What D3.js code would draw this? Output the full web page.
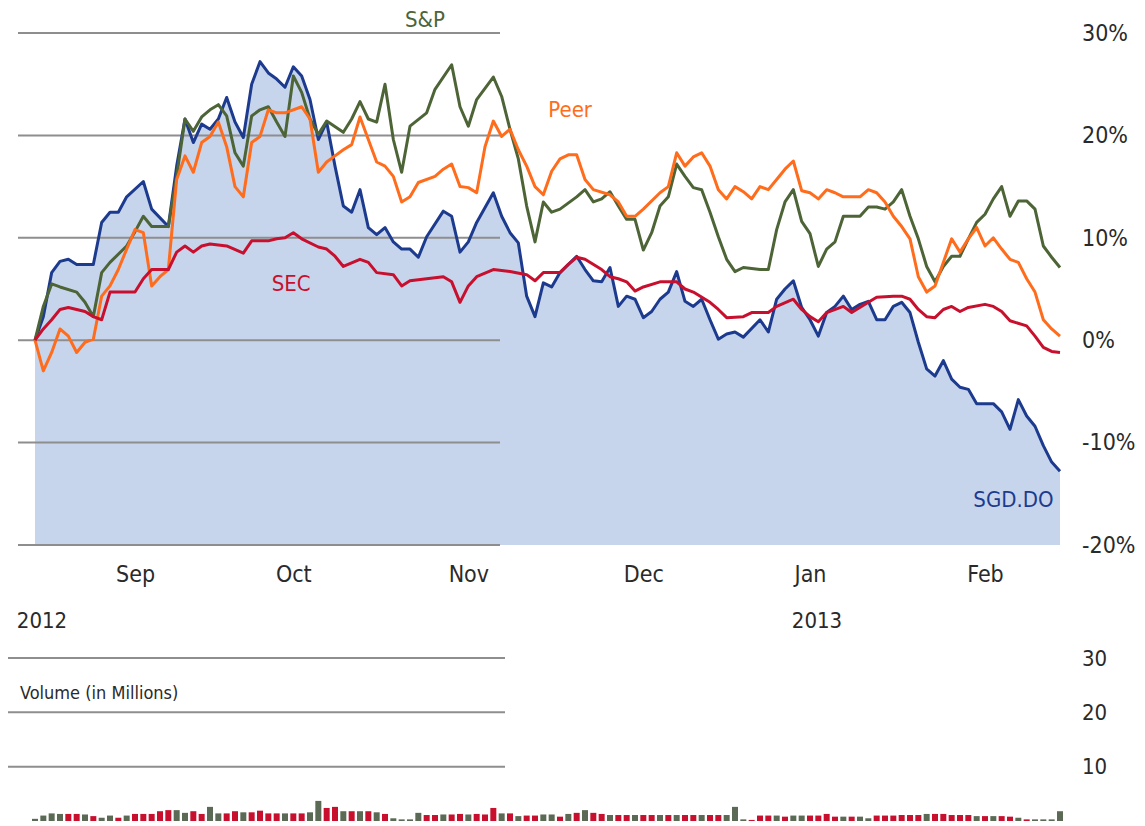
<!DOCTYPE html>
<html>
<head>
<meta charset="utf-8">
<script src="https://cdn.jsdelivr.net/npm/d3@7"></script>
<style>
  html, body { margin: 0; padding: 0; background: #ffffff; }
  svg text { font-family: "Liberation Sans Narrow", "DejaVu Sans Condensed", "Liberation Sans", sans-serif; }
</style>
</head>
<body>
<svg id="chart" width="1145" height="826"></svg>
<script>
// Relative performance (%) by trading session, 16 Aug 2012 .. 14 Feb 2013
// each entry: [session index, percent change]
const stockSeries = [[0,0],[1,2.3],[2,6.6],[3,7.7],[4,7.9],[5,7.4],[7,7.4],[8,11.5],[9,12.5],[10,12.5],[11,14.0],[13,15.5],[14,12.8],[16,11.1],[17,17.0],[18,21.6],[19,19.3],[20,21.1],[21,20.6],[22,21.6],[23,23.7],[24,21.3],[25,19.8],[26,25.0],[27,27.2],[28,26.1],[29,25.5],[30,24.7],[31,26.7],[32,25.8],[33,23.5],[34,19.6],[35,21.3],[36,17.0],[37,13.1],[38,12.5],[39,14.7],[40,11.0],[41,10.3],[42,11.0],[43,9.6],[44,8.9],[45,8.9],[46,8.1],[47,10.1],[49,12.6],[50,12.1],[51,8.6],[52,9.6],[53,11.5],[55,14.4],[56,12.1],[57,10.5],[58,9.5],[59,4.3],[60,2.3],[61,5.6],[62,5.2],[63,6.6],[65,8.2],[66,6.9],[67,5.8],[68,5.7],[69,7.1],[70,3.3],[71,4.3],[72,4.0],[73,2.2],[74,2.8],[75,4.0],[76,4.7],[77,6.7],[78,3.8],[79,3.3],[80,4.0],[81,2.0],[82,0.1],[83,0.6],[84,0.8],[85,0.3],[87,2.0],[88,0.8],[89,4.0],[90,5.0],[91,5.8],[92,3.2],[93,2.0],[94,0.4],[95,2.7],[96,3.3],[97,4.3],[98,3.0],[99,3.5],[100,3.8],[101,2.0],[102,2.0],[103,3.3],[104,3.7],[105,2.7],[106,-0.2],[107,-2.8],[108,-3.5],[109,-2.0],[110,-3.8],[111,-4.6],[112,-4.8],[113,-6.2],[115,-6.2],[116,-7.0],[117,-8.7],[118,-5.8],[119,-7.4],[120,-8.4],[121,-10.3],[122,-11.9],[123,-12.8]];

const indexSeries = [[0,0],[1,3.3],[2,5.5],[3,5.2],[5,4.7],[6,3.7],[7,2.3],[8,6.6],[9,7.6],[11,9.2],[12,10.6],[13,12.1],[14,11.1],[16,11.1],[17,16.0],[18,21.6],[19,20.4],[20,21.8],[21,22.5],[22,23.0],[23,21.9],[24,18.3],[25,17.0],[26,21.9],[27,22.5],[28,22.8],[29,21.3],[30,19.9],[31,25.8],[32,24.2],[33,21.6],[34,20.1],[35,21.4],[37,20.3],[38,21.6],[39,23.3],[40,21.6],[41,21.3],[42,25.0],[43,19.6],[44,16.4],[45,20.9],[47,22.2],[48,24.5],[50,26.9],[51,22.8],[52,20.9],[53,23.5],[55,25.7],[56,23.8],[57,20.6],[58,17.7],[59,13.1],[60,9.6],[61,13.5],[62,12.5],[63,12.8],[65,14.0],[66,14.7],[67,13.5],[68,13.8],[69,14.5],[70,13.1],[71,11.8],[72,11.8],[73,8.8],[74,10.5],[75,13.1],[76,14.0],[77,17.2],[78,16.0],[79,14.9],[80,14.7],[81,12.5],[82,10.1],[83,7.9],[84,6.7],[85,7.1],[87,6.9],[88,6.9],[89,10.8],[90,13.5],[91,14.7],[92,11.6],[93,10.4],[94,7.2],[95,8.9],[96,9.6],[97,12.1],[99,12.1],[100,13.0],[101,13.0],[102,12.8],[103,13.5],[104,14.7],[105,12.1],[106,9.9],[107,7.2],[108,5.7],[109,7.2],[110,8.2],[111,8.2],[112,9.9],[113,11.5],[114,12.3],[115,13.8],[116,15.0],[117,12.1],[118,13.6],[119,13.6],[120,12.8],[121,9.2],[122,8.1],[123,7.1]];

const peerSeries = [[0,0],[1,-3.0],[2,-1.2],[3,1.1],[4,0.4],[5,-1.2],[6,-0.2],[7,0.1],[8,4.3],[9,5.3],[10,6.9],[11,8.9],[12,10.8],[13,10.5],[14,5.3],[15,6.2],[16,6.9],[17,15.7],[18,18.0],[19,16.4],[20,19.3],[21,19.9],[22,21.3],[23,18.9],[24,15.0],[25,14.0],[26,19.3],[27,19.9],[28,22.5],[29,22.2],[30,22.2],[32,22.8],[33,21.6],[34,16.4],[35,17.4],[36,18.0],[37,18.6],[38,19.1],[39,21.8],[40,19.6],[41,17.4],[42,17.0],[43,16.0],[44,13.5],[45,14.0],[46,15.4],[48,16.0],[49,16.7],[50,17.2],[51,15.0],[52,14.9],[53,14.4],[54,18.9],[55,21.4],[56,19.9],[57,20.6],[58,18.6],[59,17.0],[60,15.0],[61,14.2],[62,16.5],[63,17.7],[64,18.1],[65,18.1],[66,15.7],[67,14.7],[69,14.2],[70,13.5],[71,12.1],[72,12.1],[73,12.8],[75,14.4],[76,15.0],[77,18.3],[78,17.0],[79,17.9],[80,18.3],[81,17.0],[82,14.7],[83,13.8],[84,15.0],[85,14.5],[86,13.8],[87,15.0],[88,14.7],[89,15.7],[90,16.7],[91,17.5],[92,14.6],[93,14.4],[94,13.8],[95,14.7],[96,14.4],[97,14.0],[99,14.0],[100,14.7],[101,14.4],[102,13.5],[103,12.1],[104,11.1],[105,9.9],[106,6.2],[107,4.7],[108,5.3],[109,7.6],[110,9.9],[111,8.6],[112,9.9],[113,11.0],[114,9.2],[115,10.0],[116,8.9],[117,7.9],[118,7.6],[119,6.0],[120,4.7],[121,2.0],[122,1.1],[123,0.4]];

const sectorSeries = [[0,0],[1,1.1],[2,2.0],[3,3.0],[4,3.2],[6,2.8],[7,2.3],[8,2.0],[9,4.7],[12,4.7],[13,6.0],[14,6.9],[16,6.9],[17,8.6],[18,9.2],[19,8.6],[20,9.2],[21,9.4],[23,9.2],[25,8.5],[26,9.7],[28,9.7],[29,9.9],[30,10.0],[31,10.5],[32,9.9],[34,9.1],[35,8.9],[36,8.2],[37,7.2],[39,7.9],[40,7.6],[41,6.6],[43,6.4],[44,5.3],[45,5.8],[47,6.0],[49,6.2],[50,5.7],[51,3.7],[52,5.3],[53,6.2],[55,6.9],[57,6.7],[59,6.4],[60,5.8],[61,6.6],[63,6.6],[64,7.4],[65,8.1],[66,7.9],[68,6.9],[69,6.2],[70,6.0],[71,5.7],[72,4.8],[73,5.2],[75,5.7],[77,5.7],[78,5.0],[79,4.7],[81,3.7],[82,3.0],[83,2.2],[85,2.3],[86,2.7],[88,2.7],[89,3.3],[91,4.0],[92,3.0],[93,2.3],[94,1.8],[95,2.7],[97,3.3],[98,2.7],[100,3.7],[101,4.2],[103,4.3],[104,4.3],[105,4.0],[106,3.0],[107,2.3],[108,2.2],[109,3.0],[110,3.3],[111,2.8],[112,3.2],[114,3.5],[115,3.3],[116,2.8],[117,1.9],[119,1.4],[120,0.4],[121,-0.7],[122,-1.1],[123,-1.2]];

// Daily volume in millions, one per session, and its direction (u = up day, d = down day)
const volume = [0.4,1.0,1.4,1.3,1.3,1.3,1.2,0.9,0.6,1.0,0.6,1.0,1.3,1.3,1.3,1.8,2.0,2.0,1.5,1.8,1.3,2.6,1.4,1.4,1.8,1.6,1.6,1.9,1.4,1.4,1.4,1.4,1.4,1.6,3.7,2.4,2.6,1.8,1.8,1.8,1.8,1.6,1.3,0.5,0.3,0.3,1.5,1.1,1.1,1.2,1.2,1.3,1.2,1.3,1.2,2.4,1.4,1.4,0.9,1.0,1.0,1.2,1.2,0.8,1.3,1.5,2.0,1.5,1.3,1.1,1.1,1.1,1.1,1.1,1.1,1.1,1.1,1.1,1.1,1.1,1.1,1.1,1.1,1.1,2.6,0.3,0.2,1.0,1.0,1.0,0.8,1.0,1.0,1.0,1.0,1.3,0.8,0.8,0.8,0.8,0.5,1.0,1.0,1.0,1.1,1.1,1.1,1.3,1.3,1.3,1.1,1.1,1.1,0.9,0.9,0.9,0.9,0.8,0.6,0.3,0.3,0.3,0.3,1.8];
const volumeDir = "uuuudduduududdddduudduudduddddudduuddudududuuuudduddudddududduudududdudduddududdudduuuddduduudddduduuddddddudddddududduduuuud";

// Axis ticks
const pctTicks = [30, 20, 10, 0, -10, -20];
const volTicks = [30, 20, 10];
const monthStarts = [12, 31, 52, 73, 93, 114];
const monthLabels = ["Sep", "Oct", "Nov", "Dec", "Jan", "Feb"];
const yearStarts = [0, 93];
const yearLabels = ["2012", "2013"];

// Series names and colours
const seriesNames = { stock: "SGD.DO", index: "S&P", peer: "Peer", sector: "SEC" };
const colors = { stock: "#1d3b8e", index: "#4d6437", peer: "#ff6c1c", sector: "#c8102e", area: "#c7d5ec", grid: "#8e8e8e", up: "#5b6a54", down: "#c8102e", text: "#2a2a2a" };

const svg = d3.select("#chart");

const x = d3.scaleLinear().domain([0, 123]).range([35, 1060]);
const y = d3.scaleLinear().domain([-20, 30]).range([545, 33]);
const yVol = d3.scaleLinear().domain([0, 30]).range([821, 658]);

// Shaded area under the stock line
svg.append("path")
  .datum(stockSeries)
  .attr("fill", colors.area)
  .attr("d", d3.area().x(d => x(d[0])).y0(y(-20)).y1(d => y(d[1])));

// Horizontal grid, drawn across the left half only
svg.append("g").selectAll("line")
  .data(pctTicks)
  .join("line")
  .attr("x1", 18).attr("x2", 500)
  .attr("y1", d => y(d)).attr("y2", d => y(d))
  .attr("stroke", colors.grid)
  .attr("stroke-width", 2);

// Right-hand percentage labels
const yAxis = svg.append("g")
  .attr("transform", "translate(1082,0)")
  .call(d3.axisRight(y).tickValues(pctTicks).tickSize(0).tickPadding(0).tickFormat(d => d + "%"));
yAxis.select(".domain").remove();
yAxis.selectAll("text").attr("font-size", 23).attr("fill", colors.text)
  .style("font-family", "'Liberation Sans Narrow','DejaVu Sans Condensed',sans-serif");

// Month labels
const xAxis = svg.append("g")
  .attr("transform", `translate(0,${y(-20)})`)
  .call(d3.axisBottom(x).tickValues(monthStarts).tickSize(0).tickPadding(21)
    .tickFormat((d, i) => monthLabels[i]));
xAxis.select(".domain").remove();
xAxis.selectAll("text").attr("font-size", 23).attr("fill", colors.text)
  .style("font-family", "'Liberation Sans Narrow','DejaVu Sans Condensed',sans-serif");

// Year labels
svg.append("g").selectAll("text")
  .data(yearStarts)
  .join("text")
  .attr("x", d => x(d) + 7)
  .attr("y", 628)
  .attr("text-anchor", "middle")
  .attr("font-size", 22)
  .attr("fill", colors.text)
  .text((d, i) => yearLabels[i]);

// Performance lines
const line = d3.line().x(d => x(d[0])).y(d => y(d[1]));
const order = [["stock", stockSeries], ["index", indexSeries], ["peer", peerSeries], ["sector", sectorSeries]];
svg.append("g").selectAll("path")
  .data(order)
  .join("path")
  .attr("fill", "none")
  .attr("stroke", d => colors[d[0]])
  .attr("stroke-width", 3)
  .attr("stroke-linejoin", "round")
  .attr("d", d => line(d[1]));

// Series labels
const seriesLabels = [
  { key: "index", t: 44.4, v: 30.6 },
  { key: "peer", t: 61.6, v: 21.8 },
  { key: "sector", t: 28.4, v: 4.8 },
  { key: "stock", t: 112.6, v: -16.3 }
];
svg.append("g").selectAll("text")
  .data(seriesLabels)
  .join("text")
  .attr("x", d => x(d.t))
  .attr("y", d => y(d.v))
  .attr("font-size", 22)
  .attr("fill", d => colors[d.key])
  .text(d => seriesNames[d.key]);

// Volume panel
svg.append("g").selectAll("line")
  .data(volTicks)
  .join("line")
  .attr("x1", 8).attr("x2", 505)
  .attr("y1", d => yVol(d)).attr("y2", d => yVol(d))
  .attr("stroke", colors.grid)
  .attr("stroke-width", 2);

const vAxis = svg.append("g")
  .attr("transform", "translate(1082,0)")
  .call(d3.axisRight(yVol).tickValues(volTicks).tickSize(0).tickPadding(0));
vAxis.select(".domain").remove();
vAxis.selectAll("text").attr("font-size", 22).attr("fill", colors.text)
  .style("font-family", "'Liberation Sans Narrow','DejaVu Sans Condensed',sans-serif");

svg.append("text")
  .attr("x", 20).attr("y", 699)
  .attr("font-size", 18)
  .attr("fill", colors.text)
  .text("Volume (in Millions)");

svg.append("g").selectAll("rect")
  .data(volume)
  .join("rect")
  .attr("x", (d, i) => x(i) - 3)
  .attr("y", d => yVol(d))
  .attr("width", 6)
  .attr("height", d => yVol(0) - yVol(d))
  .attr("fill", (d, i) => volumeDir[i] === "u" ? colors.up : colors.down);
</script>
</body>
</html>
